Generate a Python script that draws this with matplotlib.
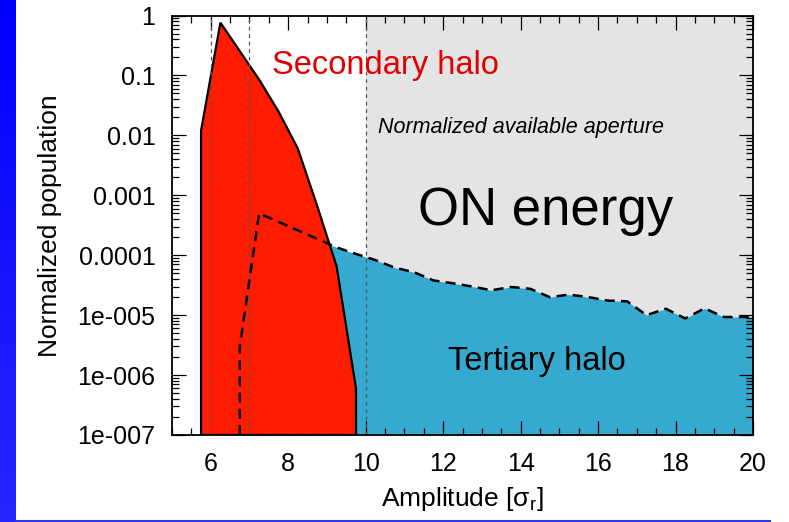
import numpy as np
import matplotlib
matplotlib.use('Agg')
import matplotlib.pyplot as plt
from matplotlib.ticker import FixedLocator, MultipleLocator, LogLocator, NullFormatter

plt.rcParams['font.family'] = ['Liberation Sans', 'DejaVu Sans']
plt.rcParams['mathtext.fontset'] = 'custom'
plt.rcParams['mathtext.rm'] = 'Liberation Sans'
plt.rcParams['mathtext.it'] = 'Liberation Sans:italic'

# secondary halo (red area)
sec_x = [5.75, 5.75, 6.25, 7.25, 7.75, 8.25, 8.75, 9.25, 9.75, 9.75]
sec_y = [1e-7, 0.012, 0.76, 0.085, 0.025, 6e-3, 6.6e-4, 6.5e-5, 6e-7, 1e-7]

# tertiary halo (dashed line / cyan area)
ter_x = [6.75, 6.75, 7.25, 9.25, 9.75, 10.25, 10.75, 11.25, 11.75, 12.25, 12.75,
         13.25, 13.75, 14.25, 14.75, 15.25, 15.75, 16.25, 16.75, 17.25, 17.75,
         18.25, 18.75, 19.25, 19.75, 20.25]
ter_y = [1e-7, 3e-6, 5e-4, 1.35e-4, 1.05e-4, 8.3e-5, 6.2e-5, 5.2e-5, 3.8e-5, 3.4e-5, 3.0e-5,
         2.6e-5, 2.95e-5, 2.75e-5, 2.0e-5, 2.2e-5, 2.0e-5, 1.75e-5, 1.7e-5, 1.0e-5, 1.28e-5,
         8.8e-6, 1.3e-5, 9.3e-6, 9.3e-6, 9.3e-6]

aperture_start = 10
guide_x = [6, 7, 10]

y_ticks = [1, 0.1, 0.01, 0.001, 0.0001, 1e-5, 1e-6, 1e-7]
y_ticklabels = ['1', '0.1', '0.01', '0.001', '0.0001', '1e-005', '1e-006', '1e-007']
x_ticks = [6, 8, 10, 12, 14, 16, 18, 20]

fig = plt.figure(figsize=(7.89, 5.22), dpi=100)

# blue stripe on the left + line at the bottom (slide frame)
bax = fig.add_axes([0, 0, 16/789, 1])
grad = np.linspace(0, 1, 256).reshape(-1, 1)
bax.imshow(grad, aspect='auto', cmap=matplotlib.colors.LinearSegmentedColormap.from_list(
    'b', ['#0000fe', '#2626ff']), extent=[0, 1, 0, 1])
bax.axis('off')
fig.add_artist(plt.Line2D([16/789, 770/789], [1.5/522, 1.5/522], transform=fig.transFigure,
                          color='#2a3ae0', lw=1.5))

ax = fig.add_axes([172/789, 87/522, 581/789, 419.5/522])
ax.set_yscale('log')
ax.set_xlim(5, 20)
ax.set_ylim(1e-7, 1)

ax.axvspan(aperture_start, 20, color='#e4e4e4', zorder=0, lw=0)
ax.fill_between(ter_x, ter_y, 1e-7, color='#35a9cf', lw=0, zorder=1)
ax.fill(sec_x, sec_y, facecolor='#ff1c00', edgecolor='black', lw=1.6, zorder=2)
for gx in guide_x:
    ax.axvline(gx, color='#555555', lw=0.9, ls=(0, (3, 3)), zorder=3)
ax.plot(ter_x, ter_y, color='black', lw=1.8, ls=(0, (4, 2.5)), zorder=4)

ax.text(7.58, 0.106, 'Secondary halo', color='#e00000', fontsize=23.5)
ax.text(10.32, 0.0108, 'Normalized available aperture', fontsize=15.5, style='italic')
ax.text(11.36, 3.2e-4, 'ON energy', fontsize=38)
ax.text(12.13, 1.23e-6, 'Tertiary halo', fontsize=23.5)

ax.yaxis.set_major_locator(FixedLocator(y_ticks))
ax.set_yticklabels(y_ticklabels)
ax.yaxis.set_minor_locator(LogLocator(base=10, subs=np.arange(2, 10)))
ax.yaxis.set_minor_formatter(NullFormatter())
ax.xaxis.set_major_locator(FixedLocator(x_ticks))
ax.xaxis.set_minor_locator(MultipleLocator(0.5))

ax.tick_params(which='both', direction='in', top=True, right=True, labelsize=18, pad=12)
ax.tick_params(which='major', length=10, width=0.9)
ax.tick_params(which='minor', length=5, width=0.9)
for s in ax.spines.values():
    s.set_linewidth(1.3)
    s.set_zorder(5)

ax.set_xlabel('Amplitude [σ$_\\mathrm{r}$]', fontsize=19, labelpad=7)
ax.set_ylabel('Normalized population', fontsize=19, labelpad=11)

fig.savefig('out.png', dpi=100)
